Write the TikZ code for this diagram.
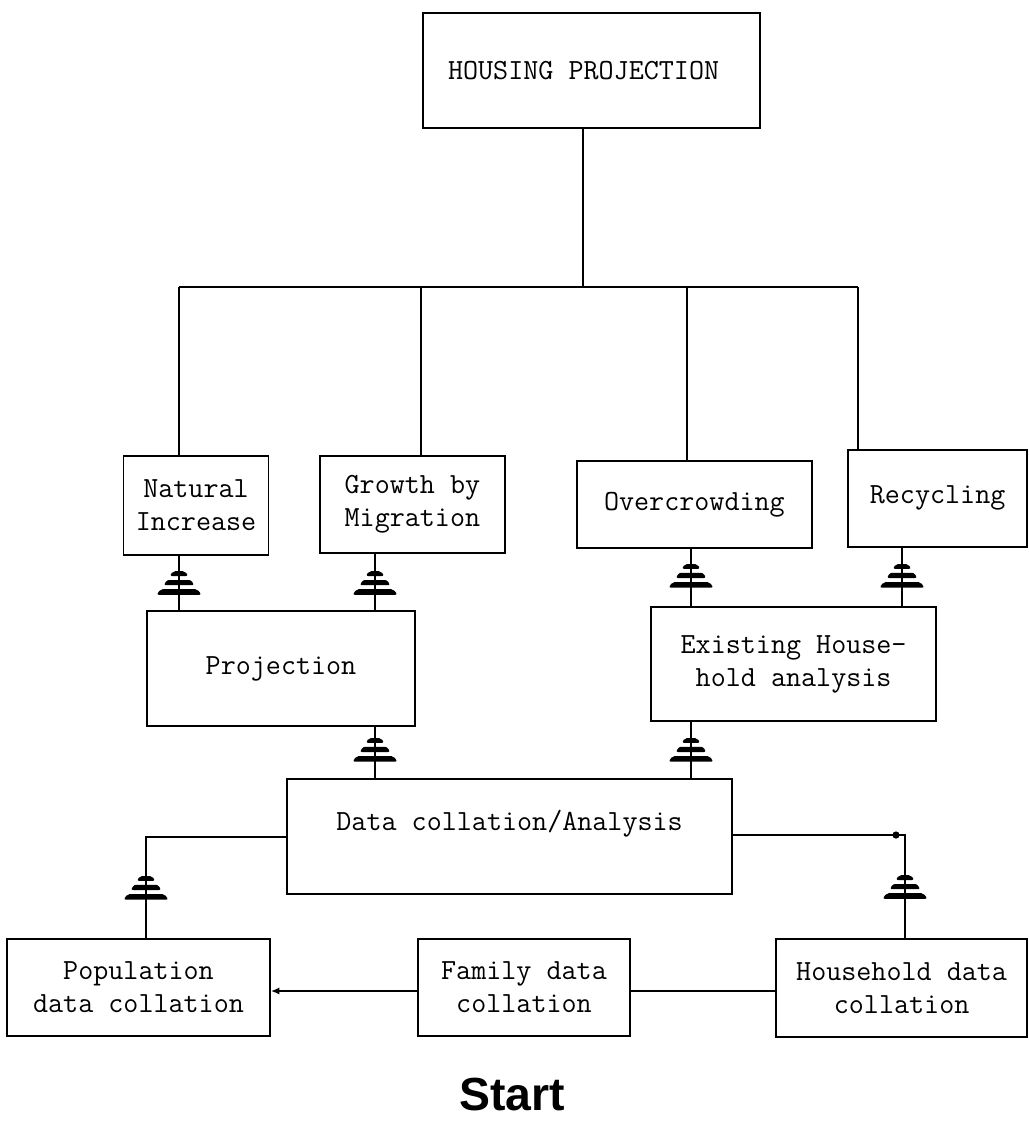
\documentclass[tikz,border=0pt]{standalone}
\usepackage{fontspec}
\newfontfamily\startfont{Liberation Sans}
\usetikzlibrary{arrows.meta}

\begin{document}
\begin{tikzpicture}[
  box/.style={
    rectangle, draw, line width=1.2pt,
    align=center, inner sep=0pt,
    font=\ttfamily\fontsize{20.8}{23.5}\selectfont
  },
  wire/.style={line width=1.2pt},
  tree/.pic={
    \fill[rounded corners=1.5pt] (-0.56,-0.07) -- (0.56,-0.07)
      -- (0.46,0.07) -- (-0.46,0.07) -- cycle;
    \fill[rounded corners=1.5pt] (-0.38,0.17) -- (0.38,0.17)
      -- (0.3,0.3) -- (-0.3,0.3) -- cycle;
    \fill[rounded corners=1.5pt] (-0.23,0.4) -- (0.23,0.4)
      -- (0.15,0.52) -- (-0.15,0.52) -- cycle;
  }
]
  \useasboundingbox (0,0) rectangle (25.725,-28.025);

  % Top
  \node[box, minimum width=8.43cm, minimum height=2.88cm] (hp)
    at (14.79,-1.76) {HOUSING PROJECTION\hspace{0.4cm}};

  % Second row
  \node[box, minimum width=3.63cm, minimum height=2.48cm] (natinc)
    at (4.9,-12.64) {Natural\\Increase};
  \node[box, minimum width=4.63cm, minimum height=2.43cm] (growth)
    at (10.31,-12.61) {Growth by\\Migration};
  \node[box, minimum width=5.88cm, minimum height=2.18cm] (overcrowd)
    at (17.36,-12.61) {Overcrowding};
  \node[box, minimum width=4.48cm, minimum height=2.43cm] (recycle)
    at (23.44,-12.46) {Recycling};

  % Third row
  \node[box, minimum width=6.7cm, minimum height=2.875cm] (proj)
    at (7.025,-16.71) {Projection};
  \node[box, minimum width=7.125cm, minimum height=2.85cm] (exist)
    at (19.84,-16.6) {Existing House-\\hold analysis};

  % Collation
  \node[box, minimum width=11.125cm, minimum height=2.875cm] (collate)
    at (12.74,-20.91) {Data collation/Analysis\\[0pt]\mbox{}};

  % Bottom row
  \node[box, minimum width=6.575cm, minimum height=2.43cm] (popdata)
    at (3.4625,-24.69) {Population\\data collation};
  \node[box, minimum width=5.3cm, minimum height=2.43cm] (famdata)
    at (13.1,-24.69) {Family data\\collation};
  \node[box, minimum width=6.275cm, minimum height=2.45cm] (hhdata)
    at (22.54,-24.7) {Household data\\collation};

  \node[font=\startfont\bfseries\fontsize{33}{35}\selectfont] (start)
    at (12.8,-27.375) {Start};

  % Bus from the top box
  \coordinate (bus) at (14.58,-7.18);
  \coordinate (d1) at (4.475,-7.18);
  \coordinate (d2) at (10.525,-7.18);
  \coordinate (d3) at (17.175,-7.18);
  \coordinate (d4) at (21.45,-7.18);
  \draw[wire] (hp.south -| bus) -- (bus);
  \draw[wire] (d1) -- (d4);
  \foreach \d/\n in {d1/natinc, d2/growth, d3/overcrowd, d4/recycle}
    \draw[wire] (\d) -- (\d |- \n.north);

  % Crossed links
  \coordinate (t1) at (4.475,-14.8);
  \coordinate (t2) at (9.375,-14.8);
  \coordinate (t3) at (17.275,-14.62);
  \coordinate (t4) at (22.55,-14.62);
  \coordinate (t5) at (9.375,-18.97);
  \coordinate (t6) at (17.275,-18.97);
  \foreach \t/\a/\b in {t1/natinc/proj, t2/growth/proj,
      t3/overcrowd/exist, t4/recycle/exist,
      t5/proj/collate, t6/exist/collate}{
    \draw[wire] (\t |- \a.south) -- (\t |- \b.north);
    \pic at (\t) {tree};
  }

  % Side links
  \coordinate (t7) at (3.65,-22.42);
  \coordinate (t8) at (22.625,-22.4);
  \draw[wire] (collate.west |- 0,-20.925) -| (popdata.north -| t7);
  \pic at (t7) {tree};
  \draw[wire] (collate.east |- 0,-20.875) -| (hhdata.north -| t8);
  \fill (22.4,-20.875) circle (0.09);
  \pic at (t8) {tree};

  % Bottom links
  \draw[wire, -{Latex[length=6pt,width=5pt]}] (famdata.west |- 0,-24.775) -- (popdata.east |- 0,-24.775);
  \draw[wire] (famdata.east |- 0,-24.775) -- (hhdata.west |- 0,-24.775);
\end{tikzpicture}
\end{document}
